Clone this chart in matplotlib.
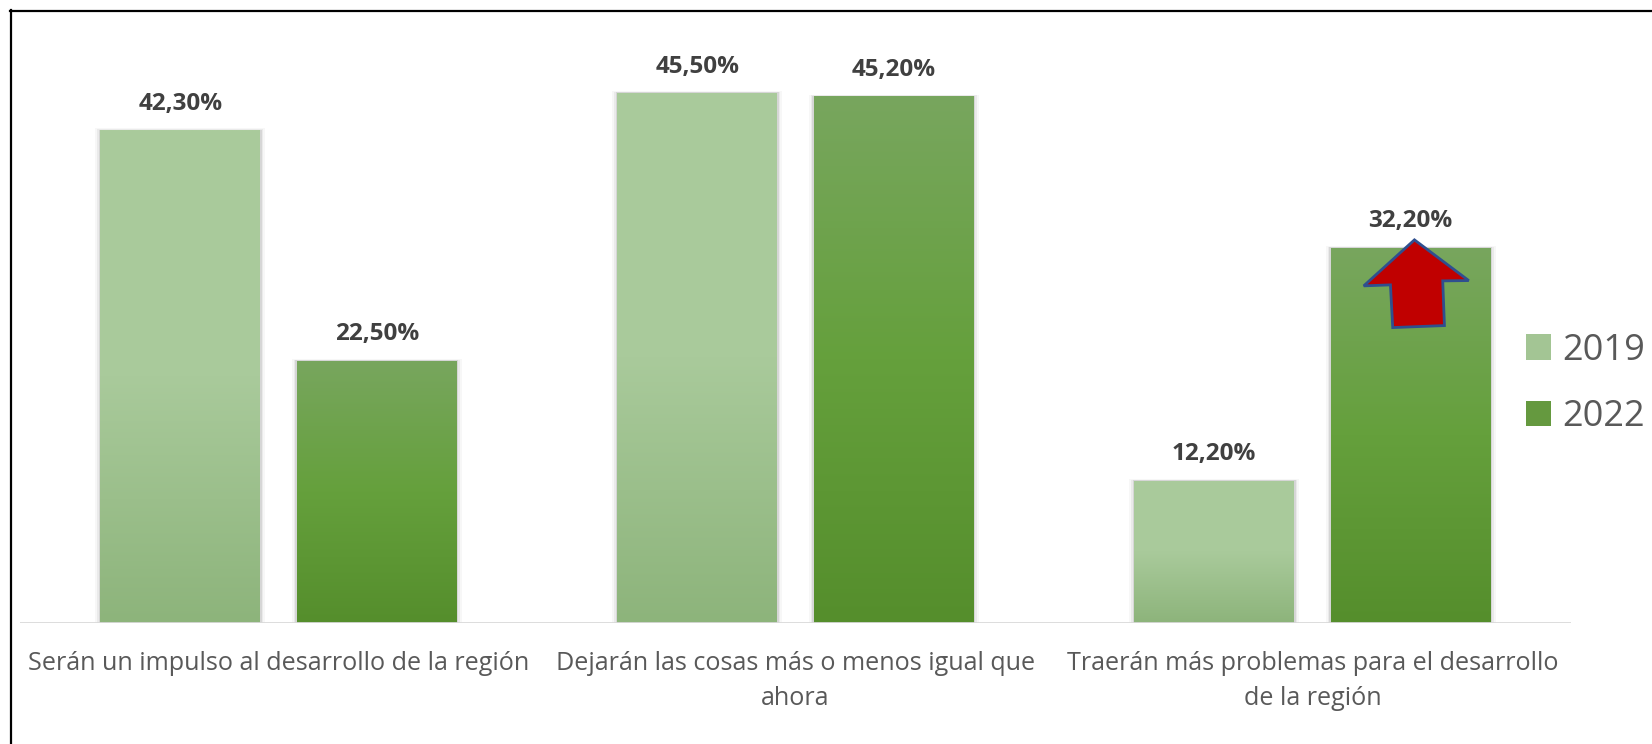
import matplotlib
matplotlib.use("Agg")
import matplotlib.pyplot as plt
import numpy as np
from matplotlib.patches import Rectangle, Polygon
from matplotlib.colors import LinearSegmentedColormap
from matplotlib.lines import Line2D
import matplotlib.transforms as mtransforms

categories = ["Serán un impulso al desarrollo de la región",
              "Dejarán las cosas más o menos igual que\nahora",
              "Traerán más problemas para el desarrollo\nde la región"]
series_names = ["2019", "2022"]
values_2019 = [42.3, 45.5, 12.2]
values_2022 = [22.5, 45.2, 32.2]
value_labels_2019 = ["42,30%", "45,50%", "12,20%"]
value_labels_2022 = ["22,50%", "45,20%", "32,20%"]

W, H = 1652, 744
fig = plt.figure(figsize=(W / 100, H / 100), dpi=100)
ax = fig.add_axes([20 / W, 1 - 623 / H, (1571 - 20) / W, (623 - 40.5) / H])
ax.set_xlim(-0.5, 2.5)
ax.set_ylim(0, 50)

FONT = "Open Sans"
grad_light = LinearSegmentedColormap.from_list("l", ["#8DB47B", "#A9CA9B", "#AACB9C"])
grad_dark = LinearSegmentedColormap.from_list("d", ["#558E2C", "#65A03C", "#78A65E"])

x = np.arange(len(categories))
bw = 0.309
off = 0.19

def draw_series(xs, vals, cmap, solid, labels):
    bars = ax.bar(xs, vals, width=bw, color=solid, zorder=3)
    for b, lab in zip(bars, labels):
        x0, w, h = b.get_x(), b.get_width(), b.get_height()
        # soft shadow
        for k, a in ((0.010, 0.05), (0.006, 0.09), (0.003, 0.16)):
            sh = Rectangle((x0 - k, 0), w + 2 * k, h + k * 0.3 * 50, facecolor="#6f6f6f",
                           alpha=a, edgecolor="none", zorder=2)
            ax.add_patch(sh)
        grad = np.linspace(0, 1, 256).reshape(-1, 1)
        im = ax.imshow(grad, cmap=cmap, origin="lower", aspect="auto",
                       extent=(x0, x0 + w, 0, h), zorder=4)
        im.set_clip_path(b)
        ax.annotate(lab, (x0 + w / 2, h), xytext=(0, 19), textcoords="offset points",
                    ha="center", va="center", fontsize=17.5, fontweight="bold",
                    color="#404040", family=FONT, zorder=6)
    return bars

b1 = draw_series(x - off, values_2019, grad_light, "#9CC08B", value_labels_2019)
b2 = draw_series(x + off, values_2022, grad_dark, "#65993F", value_labels_2022)

# baseline
ax.axhline(0, color="#D9D9D9", lw=2, zorder=5)
for s in ax.spines.values():
    s.set_visible(False)
ax.set_yticks([])
ax.set_xticks(x)
ax.set_xticklabels(categories, fontsize=18.1, color="#595959", family=FONT,
                   linespacing=1.55)
ax.tick_params(axis="x", length=0, pad=20)

# red arrow on third 2022 bar (pixel offsets, y downward)
bar = b2[2]
ax_x = bar.get_x() + bar.get_width() / 2
ax_y = bar.get_height()
verts = [(3.7, -8), (58, 32.7), (32, 33), (33.7, 77.7), (-18, 79.7), (-20.3, 37), (-47, 38)]
trans = mtransforms.Affine2D().scale(1, -1) + mtransforms.ScaledTranslation(ax_x, ax_y, ax.transData)
arrow = Polygon(verts, closed=True, facecolor="#C00000", edgecolor="#2F4F8F",
                lw=2, transform=trans, zorder=7, joinstyle="miter")
ax.add_patch(arrow)

# legend
handles = [Rectangle((0, 0), 1, 1, facecolor="#A3C594"), Rectangle((0, 0), 1, 1, facecolor="#65993F")]
leg = fig.legend(handles, series_names, loc="center left",
                 bbox_to_anchor=(1526 / W, 1 - 384 / H), frameon=False,
                 prop={"family": FONT, "size": 26}, labelcolor="#595959",
                 handlelength=0.7, handleheight=0.7, handletextpad=0.3,
                 labelspacing=0.85, borderpad=0, borderaxespad=0)

# frame lines (top and left)
fig.add_artist(Line2D([10 / W, 1], [1 - 11 / H, 1 - 11 / H], color="black", lw=1.6,
                      transform=fig.transFigure))
fig.add_artist(Line2D([11 / W, 11 / W], [0, 1 - 10 / H], color="black", lw=1.6,
                      transform=fig.transFigure))

fig.savefig("out.png", dpi=100)
